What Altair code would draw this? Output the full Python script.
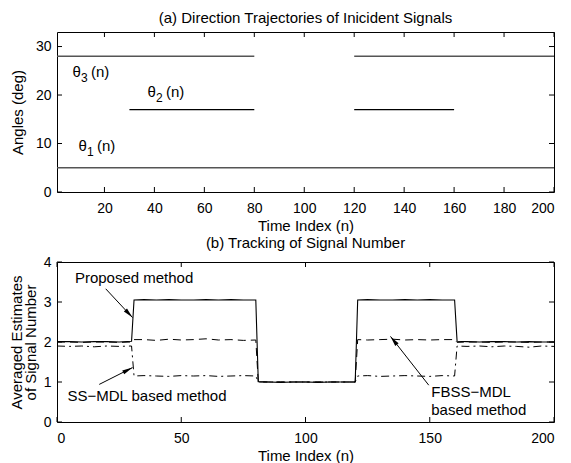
import altair as alt
import pandas as pd
import numpy as np

# ---------------- panel (a) data ----------------
seg_signal = ["θ3", "θ3", "θ2", "θ2", "θ1"]
seg_start = [1, 120, 30, 120, 1]
seg_end = [80, 200, 80, 160, 200]
seg_angle = [28, 28, 17, 17, 5]

lab_sub = ["3", "2", "1"]
lab_n = [7.2, 37.2, 9.6]
lab_v = [24.7, 20.6, 9.5]

a_xticks = [20, 40, 60, 80, 100, 120, 140, 160, 180, 200]
a_yticks = [0, 10, 20, 30]

# ---------------- panel (b) data ----------------
n = [0, 5, 10, 15, 20, 25, 30,
     31, 35, 40, 45, 50, 55, 60, 65, 70, 75, 80,
     81, 85, 90, 95, 100, 105, 110, 115, 120,
     121, 125, 130, 135, 140, 145, 150, 155, 160,
     161, 165, 170, 175, 180, 185, 190, 195, 200]
proposed = [2.01, 2.01, 2.0, 2.01, 2.01, 2.0, 2.02,
            3.05, 3.06, 3.05, 3.06, 3.05, 3.05, 3.06, 3.05, 3.06, 3.05, 3.05,
            1.01, 1.0, 0.99, 1.0, 1.0, 0.99, 1.0, 1.0, 1.0,
            3.05, 3.06, 3.05, 3.05, 3.06, 3.05, 3.06, 3.05, 3.05,
            2.02, 2.01, 2.0, 2.01, 2.01, 2.0, 2.01, 2.0, 2.0]
fbss = [2.0, 2.0, 1.99, 2.0, 2.0, 1.99, 2.0,
        2.06, 2.06, 2.04, 2.07, 2.05, 2.06, 2.08, 2.05, 2.06, 2.04, 2.05,
        1.0, 1.0, 1.0, 1.0, 1.0, 1.0, 1.0, 1.0, 1.0,
        2.06, 2.05, 2.06, 2.07, 2.05, 2.06, 2.05, 2.06, 2.06,
        1.99, 2.0, 2.0, 1.99, 2.0, 2.0, 1.99, 2.0, 2.0]
ssmdl = [1.9, 1.89, 1.9, 1.88, 1.9, 1.89, 1.9,
         1.15, 1.16, 1.15, 1.14, 1.16, 1.15, 1.16, 1.14, 1.15, 1.16, 1.15,
         1.0, 1.0, 1.0, 1.0, 1.0, 1.0, 1.0, 1.0, 1.0,
         1.15, 1.16, 1.14, 1.15, 1.16, 1.15, 1.14, 1.16, 1.15,
         1.9, 1.89, 1.9, 1.88, 1.9, 1.89, 1.87, 1.9, 1.89]

b_xticks = [0, 50, 100, 150, 200]
b_yticks = [0, 1, 2, 3, 4]

ann_text = ["Proposed method", "SS−MDL based method", "FBSS−MDL", "based method"]
ann_n = [7.2, 4.2, 150.6, 150.6]
ann_v = [3.61, 0.64, 0.74, 0.29]

arr_n1 = [19.6, 17.0, 149.6]
arr_v1 = [3.33, 0.94, 0.92]
arr_n2 = [30.4, 30.4, 134.2]
arr_v2 = [2.61, 1.36, 2.14]

# ---------------- layout / style ----------------
W, H = 497, 160
FONT = "Liberation Sans"
TICK = 5
A_XDOM = [1, 200]
A_YDOM = [0, 33]
B_XDOM = [0, 200]
B_YDOM = [0, 4]


def xenc(field, dom, vals):
    return alt.X(field, type="quantitative",
                 scale=alt.Scale(domain=dom, nice=False, zero=False),
                 axis=alt.Axis(values=vals, title="Time Index (n)", labelPadding=9,
                               titlePadding=3, format="d"))


def yenc(field, dom, vals, title, tx):
    return alt.Y(field, type="quantitative",
                 scale=alt.Scale(domain=dom, nice=False, zero=False),
                 axis=alt.Axis(values=vals, title=title, labelPadding=6, format="d",
                               titleX=tx, titleY=H / 2, titleBaseline="middle",
                               titleLineHeight=14))


def tick_layers(xdom, xvals, ydom, yvals, ytitle, tx):
    xt = pd.DataFrame({"t": xvals})
    yt = pd.DataFrame({"t": yvals})
    base_x = alt.Chart(xt).mark_rule(color="black", strokeWidth=1)
    base_y = alt.Chart(yt).mark_rule(color="black", strokeWidth=1)
    return [
        base_x.encode(x=xenc("t", xdom, xvals), y=alt.value(H), y2=alt.value(H - TICK)),
        base_x.encode(x=xenc("t", xdom, xvals), y=alt.value(0), y2=alt.value(TICK)),
        base_y.encode(y=yenc("t", ydom, yvals, ytitle, tx), x=alt.value(0), x2=alt.value(TICK)),
        base_y.encode(y=yenc("t", ydom, yvals, ytitle, tx), x=alt.value(W), x2=alt.value(W - TICK)),
    ]


# ---------------- panel (a) ----------------
A_TITLE = "Angles (deg)"
A_TX = -40
segs = pd.DataFrame({"signal": seg_signal, "start": seg_start, "end": seg_end, "angle": seg_angle})
labs = pd.DataFrame({"sub": lab_sub, "n": lab_n, "v": lab_v})

a_lines = alt.Chart(segs).mark_rule().encode(
    x=xenc("start", A_XDOM, a_xticks),
    x2="end",
    y=yenc("angle", A_YDOM, a_yticks, A_TITLE, A_TX),
    color=alt.condition(alt.datum.signal == "θ2", alt.value("black"), alt.value("#555555")),
    strokeWidth=alt.condition(alt.datum.signal == "θ2", alt.value(1.2), alt.value(1.6)),
)
lab_base = alt.Chart(labs)
a_theta = lab_base.mark_text(align="left", baseline="middle", font=FONT, fontSize=15,
                             color="black").encode(
    x=xenc("n", A_XDOM, a_xticks), y=yenc("v", A_YDOM, a_yticks, A_TITLE, A_TX),
    text=alt.value("θ"))
a_sub = lab_base.mark_text(align="left", baseline="middle", font=FONT, fontSize=12,
                           color="black", dx=8.5, dy=6).encode(
    x=xenc("n", A_XDOM, a_xticks), y=yenc("v", A_YDOM, a_yticks, A_TITLE, A_TX),
    text="sub:N")
a_n = lab_base.mark_text(align="left", baseline="middle", font=FONT, fontSize=15,
                         color="black", dx=18.5).encode(
    x=xenc("n", A_XDOM, a_xticks), y=yenc("v", A_YDOM, a_yticks, A_TITLE, A_TX),
    text=alt.value("(n)"))

panel_a = alt.layer(
    a_lines, a_theta, a_sub, a_n,
    *tick_layers(A_XDOM, a_xticks, A_YDOM, a_yticks, A_TITLE, A_TX)
).properties(
    width=W, height=H,
    title=alt.Title("(a) Direction Trajectories of Inicident Signals", offset=6),
)

# ---------------- panel (b) ----------------
B_TITLE = ["Averaged Estimates", "of Signal Number"]
B_TX = -41
curves = pd.DataFrame({"n": n, "proposed": proposed, "fbss": fbss, "ssmdl": ssmdl})
cbase = alt.Chart(curves)
b_prop = cbase.mark_line(color="black", strokeWidth=1.1).encode(
    x=xenc("n", B_XDOM, b_xticks), y=yenc("proposed", B_YDOM, b_yticks, B_TITLE, B_TX))
b_fbss = cbase.mark_line(color="black", strokeWidth=1, strokeDash=[8, 5]).encode(
    x=xenc("n", B_XDOM, b_xticks), y=yenc("fbss", B_YDOM, b_yticks, B_TITLE, B_TX))
b_ss = cbase.mark_line(color="black", strokeWidth=1, strokeDash=[8, 4, 2, 4]).encode(
    x=xenc("n", B_XDOM, b_xticks), y=yenc("ssmdl", B_YDOM, b_yticks, B_TITLE, B_TX))

ann = pd.DataFrame({"text": ann_text, "n": ann_n, "v": ann_v})
b_text = alt.Chart(ann).mark_text(align="left", baseline="middle", font=FONT, fontSize=15,
                                  color="black").encode(
    x=xenc("n", B_XDOM, b_xticks), y=yenc("v", B_YDOM, b_yticks, B_TITLE, B_TX), text="text:N")

# arrow directions derived from the scales (pixels per unit)
px_n = W / (B_XDOM[1] - B_XDOM[0])
px_v = H / (B_YDOM[1] - B_YDOM[0])
a1 = np.array(arr_n1); a2 = np.array(arr_n2)
b1 = np.array(arr_v1); b2 = np.array(arr_v2)
ang = np.degrees(np.arctan2((a2 - a1) * px_n, (b2 - b1) * px_v)) % 360
arrows = pd.DataFrame({"n1": arr_n1, "v1": arr_v1, "n2": arr_n2, "v2": arr_v2, "ang": ang})
b_arrow_line = alt.Chart(arrows).mark_rule(color="black", strokeWidth=1).encode(
    x=xenc("n1", B_XDOM, b_xticks), x2="n2",
    y=yenc("v1", B_YDOM, b_yticks, B_TITLE, B_TX), y2="v2")
ARROW_PATH = "M0,0L0.45,2.2L-0.45,2.2Z"
b_arrow_head = alt.Chart(arrows).mark_point(shape=ARROW_PATH, filled=True, color="black",
                                            opacity=1, size=90, strokeWidth=0).encode(
    x=xenc("n2", B_XDOM, b_xticks), y=yenc("v2", B_YDOM, b_yticks, B_TITLE, B_TX),
    angle=alt.Angle("ang:Q", scale=None))

panel_b = alt.layer(
    b_ss, b_fbss, b_prop, b_arrow_line, b_arrow_head, b_text,
    *tick_layers(B_XDOM, b_xticks, B_YDOM, b_yticks, B_TITLE, B_TX)
).properties(
    width=W, height=H,
    title=alt.Title("(b) Tracking of Signal Number", offset=4),
)

chart = alt.vconcat(panel_a, panel_b, spacing=1).properties(
    padding={"left": 0, "top": 2, "right": 4, "bottom": 0},
    background="white",
).configure_view(
    stroke="black", strokeWidth=1,
).configure_axis(
    grid=False, ticks=False, domain=False,
    labelFont=FONT, labelFontSize=14, labelColor="black",
    titleFont=FONT, titleFontSize=15, titleFontWeight="normal", titleColor="black",
).configure_title(
    font=FONT, fontSize=15, fontWeight="normal", color="black", anchor="middle",
)

chart.save("out.html", embed_options={"renderer": "svg", "actions": False})
